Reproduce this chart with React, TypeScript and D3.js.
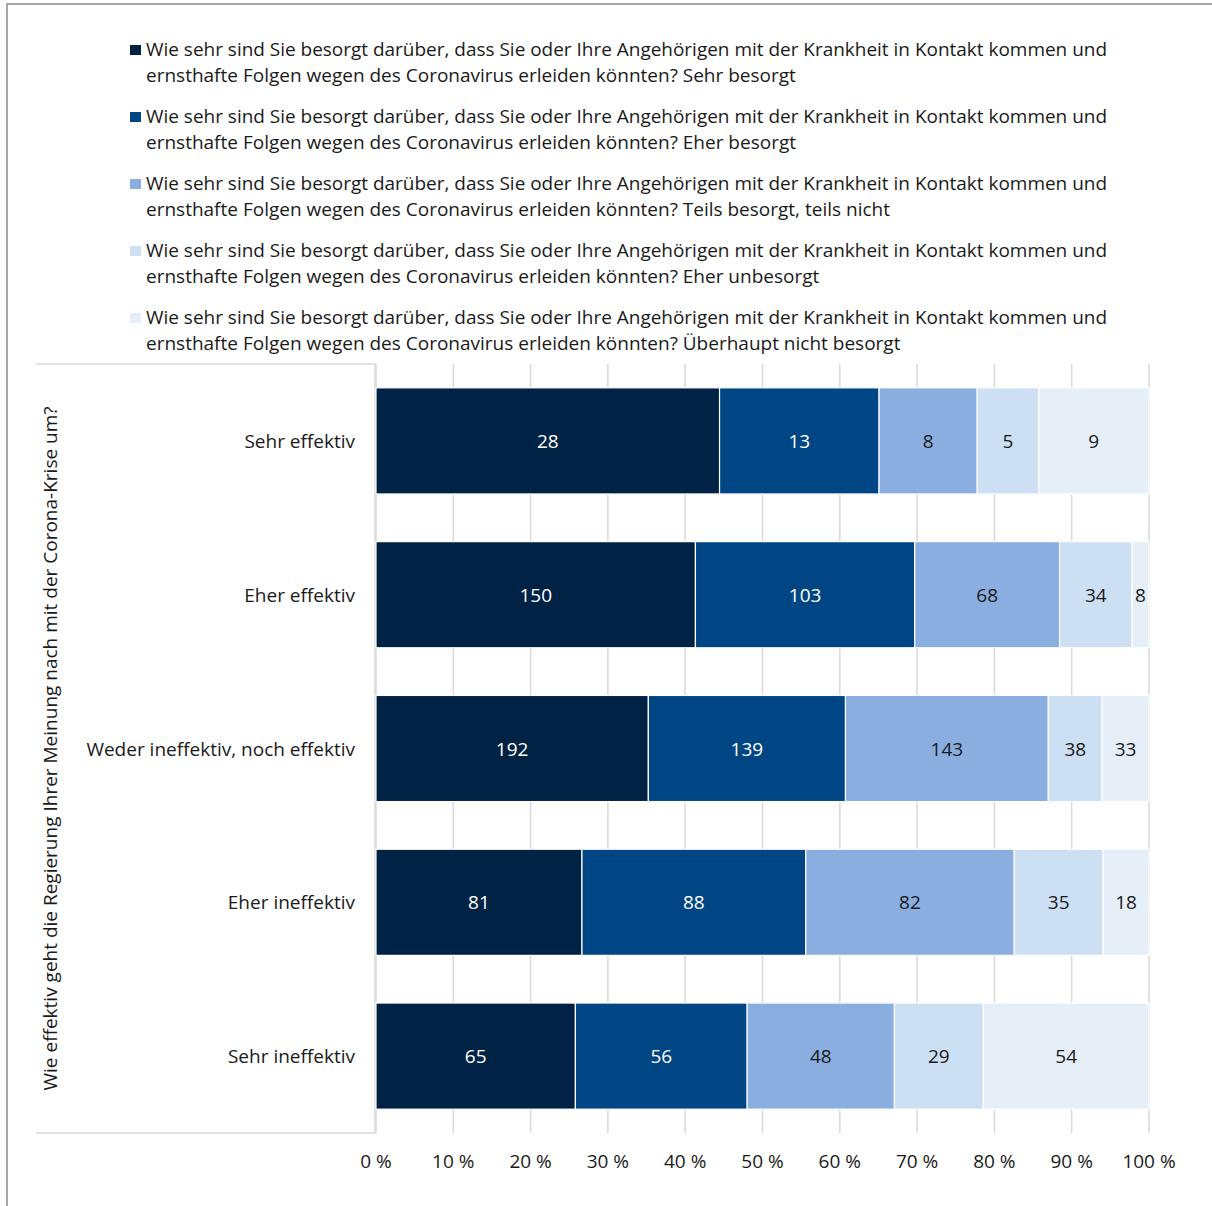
import { useEffect, useRef } from "react";
import * as d3 from "d3";

const CATEGORIES = [
  "Sehr effektiv",
  "Eher effektiv",
  "Weder ineffektiv, noch effektiv",
  "Eher ineffektiv",
  "Sehr ineffektiv",
];

const QUESTION =
  "Wie sehr sind Sie besorgt darüber, dass Sie oder Ihre Angehörigen mit der Krankheit in Kontakt kommen und";
const QUESTION_2 = "ernsthafte Folgen wegen des Coronavirus erleiden könnten?";
const SERIES = ["Sehr besorgt", "Eher besorgt", "Teils besorgt, teils nicht", "Eher unbesorgt", "Überhaupt nicht besorgt"];
const COLORS = ["#002244", "#004684", "#8aaee0", "#cddff3", "#e6eef8"];
const LABEL_COLORS = ["#ffffff", "#ffffff", "#1a1a1a", "#1a1a1a", "#1a1a1a"];

const SEHR_BESORGT = [28, 150, 192, 81, 65];
const EHER_BESORGT = [13, 103, 139, 88, 56];
const TEILS = [8, 68, 143, 82, 48];
const EHER_UNBESORGT = [5, 34, 38, 35, 29];
const UEBERHAUPT_NICHT = [9, 8, 33, 18, 54];

const X_TICKS = [0, 0.1, 0.2, 0.3, 0.4, 0.5, 0.6, 0.7, 0.8, 0.9, 1];
const Y_TITLE = "Wie effektiv geht die Regierung Ihrer Meinung nach mit der Corona-Krise um?";

const FONT = "'Open Sans', 'Noto Sans', sans-serif";
const FS = 19;

export default function App() {
  const ref = useRef<SVGSVGElement>(null);
  useEffect(() => {
    const el = ref.current;
    if (!el) return;
    const W = 1212, H = 1206;
    const svg = d3.select(el).attr("width", W).attr("height", H).attr("viewBox", `0 0 ${W} ${H}`);
    svg.selectAll("*").remove();

    // outer frame
    svg.append("rect").attr("x", 7).attr("y", 4).attr("width", W + 10).attr("height", H + 10)
      .attr("fill", "white").attr("stroke", "#8a8a8a").attr("stroke-width", 1.5);

    // legend
    SERIES.forEach((s, i) => {
      const y0 = 56 + i * 67;
      svg.append("rect").attr("x", 130).attr("y", y0 - 11).attr("width", 11).attr("height", 10).attr("fill", COLORS[i]);
      svg.append("text").attr("x", 146).attr("y", y0).attr("font-family", FONT).attr("font-size", FS)
        .attr("fill", "#1a1a1a").attr("textLength", 961).attr("lengthAdjust", "spacingAndGlyphs").text(QUESTION);
      svg.append("text").attr("x", 146).attr("y", y0 + 26).attr("font-family", FONT).attr("font-size", FS)
        .attr("fill", "#1a1a1a").text(`${QUESTION_2} ${s}`);
    });

    const series = [SEHR_BESORGT, EHER_BESORGT, TEILS, EHER_UNBESORGT, UEBERHAUPT_NICHT];
    const rows = CATEGORIES.map((c, i) => {
      const vals = series.map((s) => s[i]);
      const total = d3.sum(vals);
      let acc = 0;
      return {
        c,
        segs: vals.map((v, k) => {
          const seg = { k, v, x0: acc / total, x1: (acc + v) / total };
          acc += v;
          return seg;
        }),
      };
    });

    const top = 364, bottom = 1133, left = 376, right = 1149;
    const x = d3.scaleLinear().domain([0, 1]).range([left, right]);
    const y = d3.scaleBand<string>().domain(CATEGORIES).range([top, bottom]).paddingInner(0.31).paddingOuter(0.155);

    // category label box (top, right, bottom edges)
    svg.append("path").attr("d", `M36,${top}H${left - 1}V${bottom}H36`)
      .attr("fill", "none").attr("stroke", "#d9d9d9").attr("stroke-width", 1.5);

    // gridlines
    X_TICKS.forEach((t) => {
      svg.append("line").attr("x1", x(t)).attr("x2", x(t)).attr("y1", top).attr("y2", bottom)
        .attr("stroke", "#d9d9d9").attr("stroke-width", 1.5);
      svg.append("text").attr("x", x(t)).attr("y", 1168).attr("text-anchor", "middle")
        .attr("font-family", FONT).attr("font-size", FS).attr("fill", "#1a1a1a")
        .text(`${Math.round(t * 100)} %`);
    });

    // bars
    rows.forEach((r) => {
      const by = y(r.c) ?? 0;
      const bh = y.bandwidth();
      r.segs.forEach((s) => {
        svg.append("rect").attr("x", x(s.x0)).attr("y", by).attr("width", x(s.x1) - x(s.x0)).attr("height", bh)
          .attr("fill", COLORS[s.k]).attr("stroke", "white").attr("stroke-width", 1.2);
        svg.append("text").attr("x", (x(s.x0) + x(s.x1)) / 2).attr("y", by + bh / 2 + 7)
          .attr("text-anchor", "middle").attr("font-family", FONT).attr("font-size", FS)
          .attr("fill", LABEL_COLORS[s.k]).text(s.v);
      });
      svg.append("text").attr("x", 355).attr("y", by + bh / 2 + 7).attr("text-anchor", "end")
        .attr("font-family", FONT).attr("font-size", FS).attr("fill", "#1a1a1a").text(r.c);
    });

    // y title
    svg.append("text").attr("transform", `translate(57,${(top + bottom) / 2}) rotate(-90)`)
      .attr("text-anchor", "middle").attr("font-family", FONT).attr("font-size", FS).attr("fill", "#1a1a1a")
      .text(Y_TITLE);
  }, []);
  return (
    <svg ref={ref} style={{ position: "absolute", left: 0, top: 0, display: "block" }} role="img" aria-label="Chart" />
  );
}
